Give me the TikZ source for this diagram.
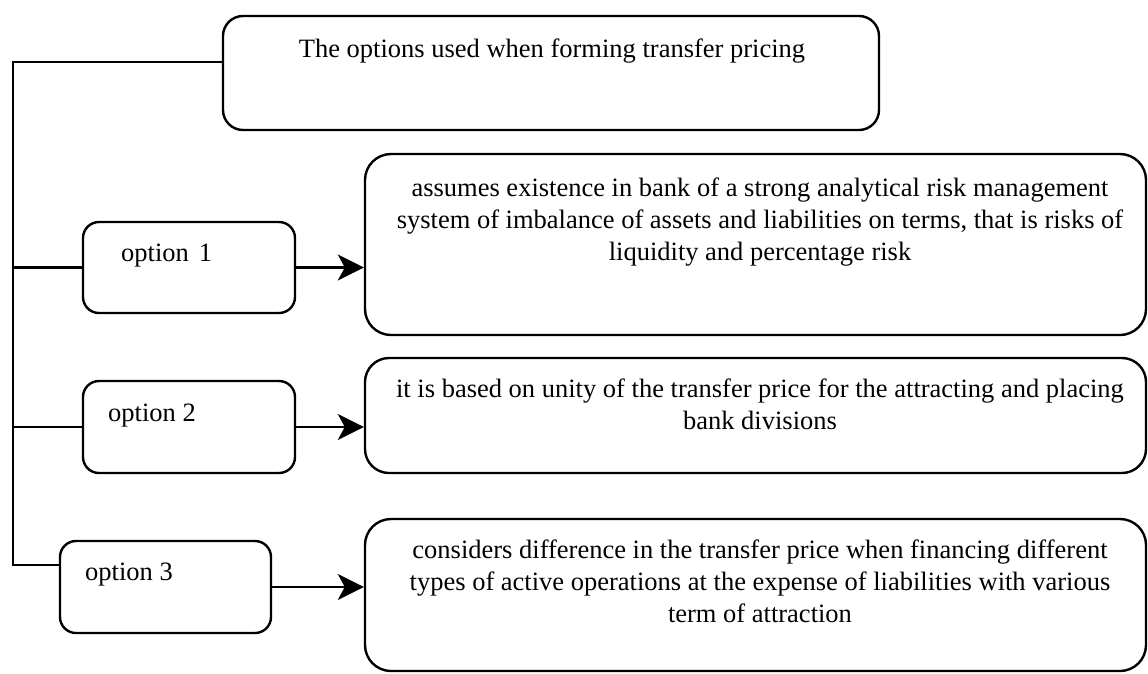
\documentclass[tikz,border=0pt]{standalone}
\usepackage{fontspec}
\setmainfont{Liberation Serif}
\usetikzlibrary{arrows.meta}
\begin{document}
\begin{tikzpicture}[x=1pt,y=-1pt,
  box/.style={draw,line width=2.4pt,rounded corners=#1,inner sep=0pt},
  box/.default=18pt,
  txt/.style={font=\fontsize{26.5pt}{32pt}\selectfont,inner sep=0pt,align=center,anchor=base},
  opttxt/.style={font=\fontsize{26.5pt}{32pt}\selectfont,inner sep=0pt,anchor=base west},
  link/.style={line width=2.4pt},
  arr/.style={line width=2.4pt,-{Stealth[length=26pt,width=26pt,inset=7pt]}}]
\useasboundingbox (0,0) rectangle (1148,673);
% boxes
\node[box=20pt,minimum width=656pt,minimum height=114pt] (top) at (551,73) {};
\node[box=16pt,minimum width=212pt,minimum height=91pt] (opt1) at (189,267.5) {};
\node[box=16pt,minimum width=212pt,minimum height=92pt] (opt2) at (189,427) {};
\node[box=16pt,minimum width=211pt,minimum height=92pt] (opt3) at (165.5,587) {};
\node[box=26pt,minimum width=781pt,minimum height=181pt] (box1) at (755.5,244.5) {};
\node[box=24pt,minimum width=781pt,minimum height=115pt] (box2) at (755.5,415.5) {};
\node[box=26pt,minimum width=781pt,minimum height=152pt] (box3) at (755.5,595) {};
% texts (base anchor = baseline of the last line)
\node[txt] (ttop) at (552,57) {The options used when forming transfer pricing};
\node[txt] (t1) at (760,260) {assumes existence in bank of a strong analytical risk management\\system of imbalance of assets and liabilities on terms, that is risks of\\liquidity and percentage risk};
\node[txt] (t2) at (760,429) {it is based on unity of the transfer price for the attracting and placing\\bank divisions};
\node[txt] (t3) at (760,622) {considers difference in the transfer price when financing different\\types of active operations at the expense of liabilities with various\\term of attraction};
\node[opttxt] (o1) at (121,261) {option\hspace{10pt}1};
\node[opttxt] (o2) at (108,421) {option 2};
\node[opttxt] (o3) at (85,580) {option 3};
% connectors
\coordinate (trunkTop) at (13,62);
\coordinate (trunkBot) at (13,565);
\draw[link] (top.west |- trunkTop) -- (trunkTop) -- (trunkBot) -- (opt3.west |- trunkBot);
\draw[link] (trunkTop |- opt1.west) -- (opt1.west);
\draw[link] (trunkTop |- opt2.west) -- (opt2.west);
\draw[arr] (opt1.east) -- (box1.west |- opt1.east);
\draw[arr] (opt2.east) -- (box2.west |- opt2.east);
\draw[arr] (opt3.east) -- (box3.west |- opt3.east);
\end{tikzpicture}
\end{document}
